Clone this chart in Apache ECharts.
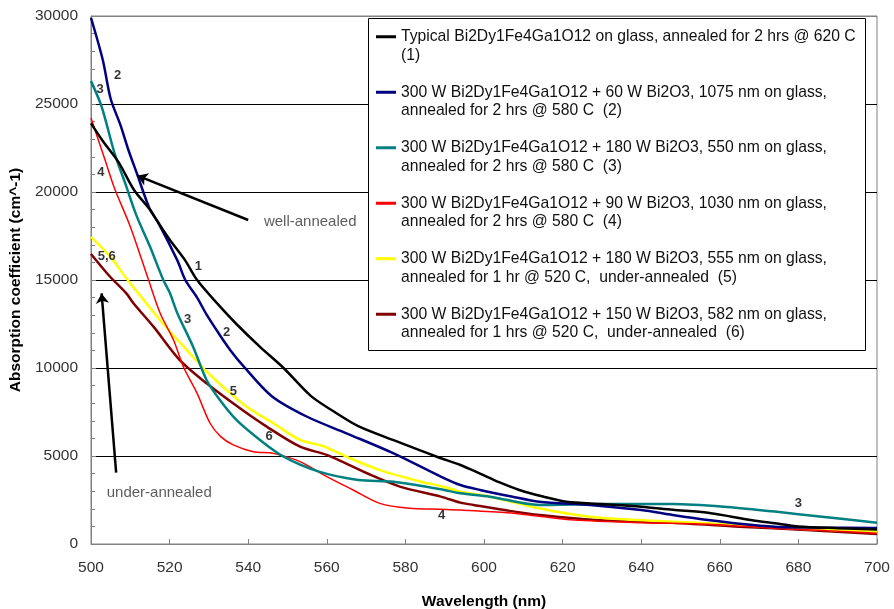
<!DOCTYPE html>
<html>
<head>
<meta charset="utf-8">
<script src="https://cdn.jsdelivr.net/npm/echarts@6/dist/echarts.min.js"></script>
<style>
  html, body { margin: 0; padding: 0; background: #fff; }
  #chart { width: 894px; height: 609px; }
</style>
</head>
<body>
<div id="chart"></div>
<script>
// Wavelength axis (nm) and absorption axis (cm^-1)
const wavelengthTicks = [500, 520, 540, 560, 580, 600, 620, 640, 660, 680, 700];
const absorptionTicks = [0, 5000, 10000, 15000, 20000, 25000, 30000];

// Legend entries, two lines each
const sampleNames = [
  ['Typical Bi2Dy1Fe4Ga1O12 on glass, annealed for 2 hrs @ 620 C', '(1)'],
  ['300 W Bi2Dy1Fe4Ga1O12 + 60 W Bi2O3, 1075 nm on glass,', 'annealed for 2 hrs @ 580 C  (2)'],
  ['300 W Bi2Dy1Fe4Ga1O12 + 180 W Bi2O3, 550 nm on glass,', 'annealed for 2 hrs @ 580 C  (3)'],
  ['300 W Bi2Dy1Fe4Ga1O12 + 90 W Bi2O3, 1030 nm on glass,', 'annealed for 2 hrs @ 580 C  (4)'],
  ['300 W Bi2Dy1Fe4Ga1O12 + 180 W Bi2O3, 555 nm on glass,', 'annealed for 1 hr @ 520 C,  under-annealed  (5)'],
  ['300 W Bi2Dy1Fe4Ga1O12 + 150 W Bi2O3, 582 nm on glass,', 'annealed for 1 hrs @ 520 C,  under-annealed  (6)']
];

// Absorption spectra: [wavelength nm, absorption cm^-1]
const sample1 = [
  [500, 23900], [503, 22900], [507, 21700], [511, 20100], [515, 19000], [517, 18300],
  [520, 17300], [524, 16100], [527, 15000], [532, 13700], [537, 12500], [543, 11200],
  [549, 10000], [556, 8400], [562, 7500], [568, 6700], [577, 5900], [588, 4960],
  [594, 4490], [599, 4000], [604, 3500], [609, 3070], [615, 2700], [621, 2400],
  [630, 2270], [640, 2120], [648, 1950], [657, 1780], [663, 1550], [669, 1320],
  [675, 1150], [680, 990], [690, 900], [700, 830]
];
const sample2 = [
  [500, 29900], [503, 27500], [505, 25300], [507.5, 23800], [509.5, 22400], [511.6, 21100],
  [515, 19000], [517, 18300], [522, 16100], [524, 15000], [527, 14000], [529.5, 13000],
  [532.4, 12000], [535.5, 11000], [539, 10050], [546, 8400], [555, 7230], [565, 6290],
  [577, 5150], [589, 3830], [594, 3350], [599, 3070], [607, 2700], [614, 2400],
  [627, 2220], [640, 1930], [648, 1650], [657, 1360], [665, 1150], [674, 985],
  [685, 930], [700, 910]
];
const sample3 = [
  [500, 26300], [502.7, 24850], [506, 22200], [508.7, 20500], [511.5, 18700], [515, 16900],
  [518.4, 15000], [520, 14300], [522, 13100], [526, 11200], [529.4, 9320], [532.8, 8180],
  [537, 7050], [543, 5910], [549, 4960], [558, 4110], [568, 3640], [577, 3540],
  [589, 3110], [594, 2880], [601.5, 2690], [614, 2220], [622, 2250], [631, 2270],
  [648, 2270], [661, 2120], [674, 1840], [686, 1550], [700, 1210]
];
const sample4 = [
  [500, 24200], [503.6, 21800], [506, 20200], [510, 18030], [514.5, 15100], [517.6, 13110],
  [521, 11590], [523.5, 10070], [527, 8560], [530.3, 6860], [533, 6100], [536.2, 5630],
  [541.3, 5240], [546.4, 5150], [553.2, 4680], [560, 3830], [566.7, 3070], [573.5, 2310],
  [581, 2030], [589, 1970], [594, 1930], [606, 1780], [614, 1580], [623, 1360],
  [640, 1210], [657, 1120], [674, 890], [687, 760], [700, 610]
];
const sample5 = [
  [500, 17450], [505, 16300], [509, 15100], [514, 13700], [519.3, 12260], [524.4, 11020],
  [528.6, 9980], [534.5, 8750], [539.6, 7800], [546.4, 6860], [553.2, 5910], [559, 5570],
  [565, 4960], [573.5, 4200], [584, 3540], [589, 3300], [594, 2970], [601.5, 2690],
  [614, 2030], [622, 1700], [631, 1460], [648, 1270], [665, 1080], [682, 850], [700, 700]
];
const sample6 = [
  [500, 16480], [504.8, 15200], [509, 14240], [510.8, 13680], [515.9, 12350], [522.6, 10450],
  [529.4, 9130], [537.9, 7710], [544.7, 6670], [553.2, 5530], [560, 5060], [570.2, 4020],
  [578.6, 3260], [589, 2690], [594, 2350], [597.3, 2220], [606, 1900], [614.2, 1650],
  [631, 1330], [648, 1210], [665, 985], [682, 800], [700, 570]
];

// Curve numbers written next to the traces: [text, wavelength, absorption]
const curveTags = [
  ['2', 506.8, 26650], ['3', 502.3, 25840], ['4', 502.5, 21120], ['5,6', 504, 16320],
  ['1', 527.3, 15760], ['3', 524.6, 12770], ['2', 534.5, 12010], ['5', 536.2, 8690],
  ['6', 545.3, 6140], ['4', 589.2, 1610], ['3', 680, 2310]
];
// Annotation notes: [text, wavelength, absorption] (left edge, vertical middle)
const notes = [
  ['well-annealed', 544, 18300],
  ['under-annealed', 504, 2880]
];
// Annotation arrows: [from, to]
const arrows = [
  [[540, 18410], [511.8, 20930]],
  [[506.4, 4050], [502.7, 14240]]
];

const seriesData = [sample1, sample2, sample3, sample4, sample5, sample6];
const colors = ['#000000', '#000080', '#008080', '#ff0000', '#ffff00', '#800000'];
const widths = [2.5, 2.5, 2.5, 1.5, 2.5, 2.5];

const FONT = '"Liberation Sans", Arial, sans-serif';
const chart = echarts.init(document.getElementById('chart'), null, { renderer: 'canvas' });

const lineSeries = seriesData.map((d, i) => ({
  type: 'line',
  name: sampleNames[i].join('\n'),
  data: d,
  showSymbol: false,
  symbol: 'none',
  smooth: 0.3,
  color: colors[i],
  lineStyle: { color: colors[i], width: widths[i] },
  z: 2 + (5 - i) * 0.01,
  silent: true
}));

const option = {
  animation: false,
  backgroundColor: '#ffffff',
  color: colors,
  grid: {
    left: 91, right: 17, top: 16, bottom: 65,
    containLabel: false,
    outerBoundsMode: 'none',
    show: true, borderColor: '#808080', borderWidth: 1, backgroundColor: 'transparent'
  },
  legend: {
    orient: 'vertical',
    left: 376,
    top: 9,
    padding: 0,
    itemGap: 0,
    itemWidth: 20,
    itemHeight: 3,
    icon: 'rect',
    selectedMode: false,
    data: lineSeries.map(s => s.name),
    formatter: name => '\n' + name,
    textStyle: { fontFamily: FONT, fontSize: 15.7, color: '#111', lineHeight: 18.5 },
    z: 10
  },
  graphic: [{
    type: 'rect',
    z: 5,
    silent: true,
    shape: { x: 368.5, y: 18.5, width: 497, height: 332 },
    style: { fill: '#ffffff', stroke: '#000000', lineWidth: 1 }
  }],
  xAxis: {
    type: 'value',
    min: wavelengthTicks[0],
    max: wavelengthTicks[wavelengthTicks.length - 1],
    interval: wavelengthTicks[1] - wavelengthTicks[0],
    name: 'Wavelength (nm)',
    nameLocation: 'middle',
    nameGap: 50,
    nameTextStyle: { fontFamily: FONT, fontSize: 15.5, fontWeight: 'bold', color: '#000' },
    axisLine: { show: true, lineStyle: { color: '#808080', width: 1 } },
    axisTick: { show: true, inside: true, length: 5, lineStyle: { color: '#808080' } },
    axisLabel: { fontFamily: FONT, fontSize: 15.5, color: '#333', margin: 16 },
    splitLine: { show: false }
  },
  yAxis: {
    type: 'value',
    min: absorptionTicks[0],
    max: absorptionTicks[absorptionTicks.length - 1],
    interval: absorptionTicks[1] - absorptionTicks[0],
    name: 'Absorption coefficient (cm^-1)',
    nameLocation: 'middle',
    nameRotate: 90,
    nameGap: 61,
    nameTextStyle: { fontFamily: FONT, fontSize: 15.5, fontWeight: 'bold', color: '#000' },
    axisLine: { show: true, lineStyle: { color: '#808080', width: 1 } },
    axisTick: { show: true, inside: true, length: 5, lineStyle: { color: '#808080' } },
    minorTick: { show: true, splitNumber: 5, length: 4, lineStyle: { color: '#808080' } },
    axisLabel: {
      fontFamily: FONT, fontSize: 15.5, color: '#333', margin: 13,
      formatter: v => String(v)
    },
    splitLine: {
      show: true,
      lineStyle: { color: ['#808080', '#000', '#000', '#000', '#000', '#000', '#808080'], width: 1 }
    }
  },
  series: lineSeries.concat([
    {
      type: 'scatter',
      name: 'curve tags',
      symbolSize: 1,
      itemStyle: { color: 'rgba(0,0,0,0)' },
      silent: true,
      z: 4,
      data: curveTags.map(t => ({ name: t[0], value: [t[1], t[2]] })),
      label: {
        show: true, position: 'inside', formatter: p => p.name,
        fontFamily: FONT, fontSize: 13, fontWeight: 'bold', color: '#000'
      },
      markLine: {
        silent: true,
        symbol: ['none', 'arrow'],
        symbolSize: 10,
        label: { show: false },
        lineStyle: { color: '#000', width: 2.5, type: 'solid' },
        data: arrows.map(a => [{ coord: a[0] }, { coord: a[1] }])
      }
    },
    {
      type: 'scatter',
      name: 'notes',
      symbolSize: 1,
      itemStyle: { color: 'rgba(0,0,0,0)' },
      silent: true,
      z: 4,
      data: notes.map(t => ({ name: t[0], value: [t[1], t[2]] })),
      label: {
        show: true, position: 'inside', align: 'left', verticalAlign: 'middle',
        formatter: p => p.name,
        fontFamily: FONT, fontSize: 15, color: '#333'
      }
    }
  ])
};

chart.setOption(option);
</script>
</body>
</html>
